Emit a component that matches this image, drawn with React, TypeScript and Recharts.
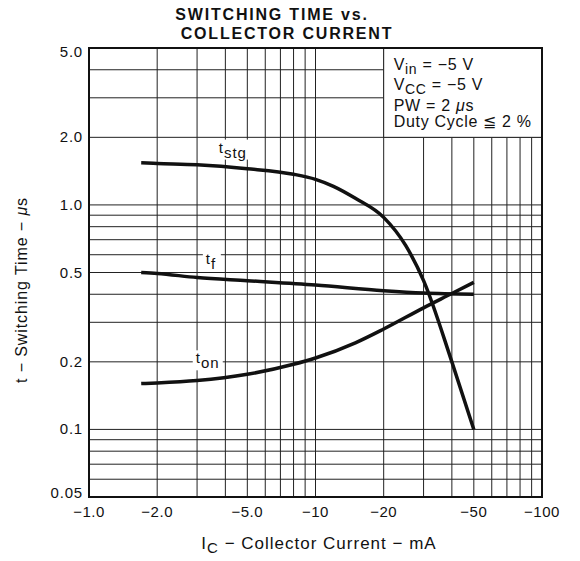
import React from 'react';
import { LineChart, Line, XAxis, YAxis, ReferenceLine, ReferenceArea, ReferenceDot } from 'recharts';

const FONT = '"Liberation Sans", Arial, sans-serif';

// collector current magnitude (mA) and switching time (us)
const TSTG_I = [1.7, 2, 3, 5, 8, 10, 12, 15, 20, 25, 30, 40, 50];
const TSTG_T = [1.54, 1.53, 1.51, 1.45, 1.37, 1.3, 1.21, 1.07, 0.88, 0.66, 0.46, 0.2, 0.1];
const TF_I = [1.7, 2, 3, 5, 10, 20, 30, 50];
const TF_T = [0.5, 0.495, 0.475, 0.46, 0.44, 0.415, 0.405, 0.4];
const TON_I = [1.7, 2, 3, 5, 8, 10, 15, 20, 30, 40, 50];
const TON_T = [0.16, 0.161, 0.165, 0.176, 0.195, 0.208, 0.243, 0.28, 0.348, 0.403, 0.452];

const X_TICKS = [1, 2, 5, 10, 20, 50, 100];
const X_TICK_LABELS = ['−1.0', '−2.0', '−5.0', '−10', '−20', '−50', '−100'];
const Y_TICKS = [0.05, 0.1, 0.2, 0.5, 1, 2, 5];
const Y_TICK_LABELS = ['0.05', '0.1', '0.2', '0.5', '1.0', '2.0', '5.0'];

const X_GRID = [2, 3, 4, 5, 6, 7, 8, 9, 10, 20, 30, 40, 50, 60, 70, 80, 90];
const Y_GRID = [4, 3, 2, 1, 0.9, 0.8, 0.7, 0.6, 0.5, 0.4, 0.3, 0.2, 0.1, 0.09, 0.08, 0.07, 0.06];

const CONDITIONS = ['= −5 V', '= −5 V', '= 2 ', ''];

const toPoints = (xs: number[], ys: number[]) => xs.map((x, i) => ({ x, y: ys[i] }));
const tstg = toPoints(TSTG_I, TSTG_T);
const tf = toPoints(TF_I, TF_T);
const ton = toPoints(TON_I, TON_T);

const XTick = (props: any) => {
  const { x, y, payload } = props;
  const i = X_TICKS.indexOf(payload.value);
  return (
    <text x={x} y={y + 20} textAnchor="middle" fontSize={15} fontFamily={FONT} fill="#111" letterSpacing={0.5}>
      {X_TICK_LABELS[i]}
    </text>
  );
};

const YTick = (props: any) => {
  const { x, y, payload } = props;
  const i = Y_TICKS.indexOf(payload.value);
  let dy = 5;
  if (payload.value === 5) dy = 9;
  if (payload.value === 0.05) dy = 1;
  return (
    <text x={x} y={y + dy} textAnchor="end" fontSize={15} fontFamily={FONT} fill="#111" letterSpacing={0.8}>
      {Y_TICK_LABELS[i]}
    </text>
  );
};

// curve name with white patch behind it
const curveLabel = (main: string, sub: string, w: number) => (p: any) => (
  <g>
    <rect x={p.cx - 3} y={p.cy - 13} width={w} height={20} fill="#fff" />
    <text x={p.cx} y={p.cy} fontSize={15} fontFamily={FONT} fill="#111" letterSpacing={1}>
      {main}
      <tspan dy={5} fontSize={15}>{sub}</tspan>
    </text>
  </g>
);

const ConditionsBox = (props: any) => {
  const { x, y } = props.viewBox;
  const tx = x + 10;
  const st = { fontSize: 16, fontFamily: FONT, fill: '#111', letterSpacing: 0.7 } as any;
  return (
    <g>
      <text x={tx} y={y + 22} {...st}>
        V<tspan dy={4} fontSize={14}>in</tspan><tspan dy={-4}> {CONDITIONS[0]}</tspan>
      </text>
      <text x={tx} y={y + 42} {...st}>
        V<tspan dy={4} fontSize={14}>CC</tspan><tspan dy={-4}> {CONDITIONS[1]}</tspan>
      </text>
      <text x={tx} y={y + 63} {...st}>
        PW {CONDITIONS[2]}<tspan fontStyle="italic">μ</tspan>s
      </text>
      <text x={tx} y={y + 79} {...st}>
        Duty Cycle ≦ 2 %
      </text>
    </g>
  );
};

export default function App() {
  return (
    <div style={{ position: 'absolute', left: 0, top: 0, width: 580, height: 561, background: '#fff' }}>
      <svg width={580} height={561} style={{ position: 'absolute', left: 0, top: 0 }}>
        <text x={272} y={20} textAnchor="middle" fontSize={16} fontWeight="bold" fontFamily={FONT} fill="#111" letterSpacing={1.8}>
          SWITCHING TIME vs.
        </text>
        <text x={287} y={39} textAnchor="middle" fontSize={16} fontWeight="bold" fontFamily={FONT} fill="#111" letterSpacing={1.8}>
          COLLECTOR CURRENT
        </text>
        <text x={319} y={549} textAnchor="middle" fontSize={17} fontFamily={FONT} fill="#111" letterSpacing={1}>
          I<tspan dy={4} fontSize={15}>C</tspan><tspan dy={-4}> − Collector Current − mA</tspan>
        </text>
        <text x={0} y={0} transform="translate(27 290) rotate(-90)" textAnchor="middle" fontSize={16} fontFamily={FONT} fill="#111" letterSpacing={0.9}>
          t − Switching Time − <tspan fontStyle="italic">μ</tspan>s
        </text>
      </svg>
      <div style={{ position: 'absolute', left: 0, top: 0 }}>
        <LineChart width={580} height={561} margin={{ top: 48, right: 38, bottom: 0, left: 0 }}>
          <XAxis
            type="number"
            dataKey="x"
            scale="log"
            domain={[1, 100]}
            ticks={X_TICKS}
            allowDataOverflow
            axisLine={false}
            tickLine={false}
            tickSize={0}
            tickMargin={0}
            height={64}
            tick={<XTick />}
          />
          <YAxis
            type="number"
            dataKey="y"
            scale="log"
            domain={[0.05, 5]}
            ticks={Y_TICKS}
            allowDataOverflow
            axisLine={false}
            tickLine={false}
            tickSize={0}
            tickMargin={6}
            width={89}
            tick={<YTick />}
          />
          {X_GRID.map((v) => (
            <ReferenceLine key={'gx' + v} x={v} stroke="#222" strokeWidth={1} zIndex={50} />
          ))}
          {Y_GRID.map((v) => (
            <ReferenceLine key={'gy' + v} y={v} stroke="#222" strokeWidth={1} zIndex={50} />
          ))}
          <ReferenceArea
            x1={20}
            x2={100}
            y1={2}
            y2={5}
            fill="#fff"
            fillOpacity={1}
            stroke="#222"
            strokeWidth={1}
            zIndex={600}
            label={<ConditionsBox />}
          />
          <Line data={tstg} dataKey="y" type="monotone" stroke="#111" strokeWidth={3.5} dot={false} isAnimationActive={false} />
          <Line data={tf} dataKey="y" type="monotone" stroke="#111" strokeWidth={3.5} dot={false} isAnimationActive={false} />
          <Line data={ton} dataKey="y" type="monotone" stroke="#111" strokeWidth={3.5} dot={false} isAnimationActive={false} />
          <ReferenceDot x={3.74} y={1.71} r={0} zIndex={650} shape={curveLabel('t', 'stg', 38)} />
          <ReferenceDot x={3.28} y={0.548} r={0} zIndex={650} shape={curveLabel('t', 'f', 18)} />
          <ReferenceDot x={2.96} y={0.197} r={0} zIndex={650} shape={curveLabel('t', 'on', 30)} />
          <ReferenceArea x1={1} x2={100} y1={0.05} y2={5} fill="none" stroke="#111" strokeWidth={2} zIndex={700} />
        </LineChart>
      </div>
    </div>
  );
}
